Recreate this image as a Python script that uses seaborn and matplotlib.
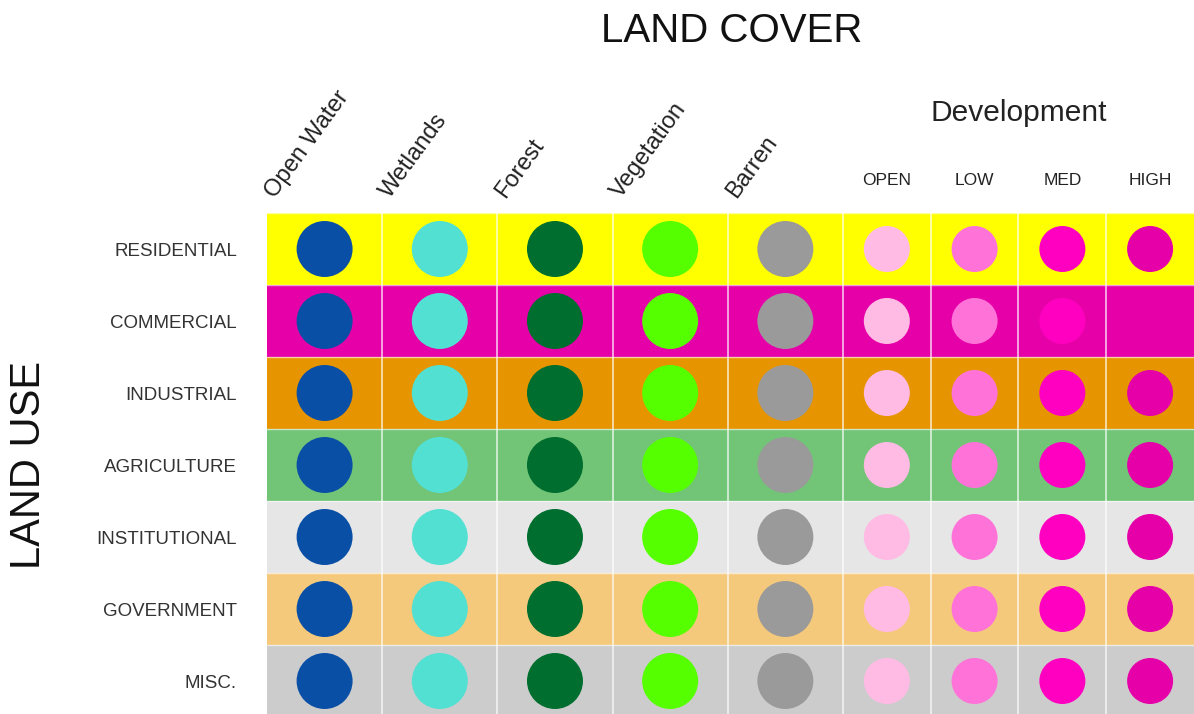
import numpy as np
import pandas as pd
import matplotlib
matplotlib.use("Agg")
import matplotlib.pyplot as plt
import seaborn as sns

# rows: land use, each with its own background colour
land_use = ["RESIDENTIAL", "COMMERCIAL", "INDUSTRIAL", "AGRICULTURE",
            "INSTITUTIONAL", "GOVERNMENT", "MISC."]
use_colors = ["#ffff00", "#e600a8", "#e69500", "#72c477",
              "#e6e6e6", "#f4c97c", "#cccccc"]

# columns: land cover
natural_cover = ["Open Water", "Wetlands", "Forest", "Vegetation", "Barren"]
natural_colors = ["#0a4fa6", "#52e0d2", "#006e2e", "#55ff00", "#9a9a9a"]
dev_levels = ["OPEN", "LOW", "MED", "HIGH"]
dev_colors = ["#ffbbe4", "#ff73d9", "#ff00c0", "#e600a8"]

sns.set_theme(style="white")
plt.rcParams["font.family"] = ["Liberation Sans", "DejaVu Sans"]

fig = plt.figure(figsize=(11.94, 7.14), dpi=100)
ax = fig.add_axes([267 / 1194, 0, 927 / 1194, 501 / 714])

dev_w = 88 / 115.5
widths = np.array([1.0] * len(natural_cover) + [dev_w] * len(dev_levels))
edges = np.concatenate([[0], np.cumsum(widths)])
centers = edges[:-1] + widths / 2
covers = natural_cover + dev_levels
cover_colors = dict(zip(covers, natural_colors + dev_colors))

recs = []
for i, u in enumerate(land_use):
    for j, c in enumerate(covers):
        recs.append({"use": u, "cover": c, "x": centers[j], "y": i + 0.5,
                     "group": "natural" if j < len(natural_cover) else "dev"})
df = pd.DataFrame(recs)

# row backgrounds
ax.barh(np.arange(len(land_use)) + 0.5, edges[-1], height=1, left=0,
        color=use_colors, edgecolor="none", zorder=1)
for e in edges[1:-1]:
    ax.axvline(e, color="white", lw=1.2, alpha=0.75, zorder=2)
for r in range(len(land_use) + 1):
    ax.axhline(r, color="white", lw=1.0, alpha=0.6, zorder=2)

sns.scatterplot(data=df, x="x", y="y", hue="cover", palette=cover_colors,
                size="group", sizes={"natural": 1625, "dev": 1097},
                linewidth=0, legend=False, ax=ax, zorder=3)

ax.set_xlim(0, edges[-1])
ax.set_ylim(501 / 72, 0)
ax.set_xticks([])
ax.set_xlabel("")
ax.set_ylabel("")
ax.set_yticks(np.arange(len(land_use)) + 0.5)
ax.set_yticklabels(land_use, fontsize=13.5, color="#333333")
ax.tick_params(axis="y", length=0, pad=21.6)
for s in ax.spines.values():
    s.set_visible(False)

# column headers
for j, name in enumerate(natural_cover):
    ax.text(edges[j] + 0.07, -0.2, name, rotation=54, rotation_mode="anchor",
            ha="left", va="baseline", fontsize=17, color="#222222", clip_on=False)
for j, name in enumerate(dev_levels):
    k = len(natural_cover) + j
    ax.text(centers[k], (180 - 213) / 72, name, ha="center", va="center",
            fontsize=12.5, color="#222222", clip_on=False)
ax.text((edges[len(natural_cover)] + edges[-1]) / 2, (113 - 213) / 72, "Development",
        ha="center", va="center", fontsize=21.5, color="#222222", clip_on=False)

fig.text(732 / 1194, 1 - 31 / 714, "LAND COVER", ha="center", va="center",
         fontsize=29, color="#111111")
fig.text(29 / 1194, 1 - 465 / 714, "LAND USE", ha="center", va="center",
         rotation=90, fontsize=30, color="#111111")

fig.savefig("out.png", dpi=100)
